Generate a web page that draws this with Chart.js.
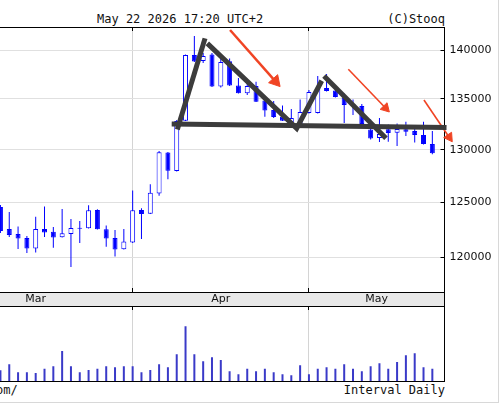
<!DOCTYPE html>
<html><head><meta charset="utf-8">
<script src="https://cdn.jsdelivr.net/npm/chart.js@4.4.1/dist/chart.umd.min.js"></script>
<style>
html,body{margin:0;padding:0;background:#fff;width:500px;height:415px;overflow:hidden;position:relative;}
.t{position:absolute;font-family:"DejaVu Sans Mono",monospace;font-size:12px;line-height:14px;color:#111;white-space:pre;}
#c1{position:absolute;left:0;top:0;}
#c2{position:absolute;left:0;top:293px;}
#frame{position:absolute;left:-10px;top:-10px;width:508px;height:412px;border-right:1px solid #d8d8d8;border-bottom:1px solid #d8d8d8;}
</style></head><body>
<div id="frame"></div>
<div class="t" style="left:97px;top:11.5px">May 22 2026 17:20 UTC+2</div>
<div class="t" style="left:0;width:445px;text-align:right;top:11.5px">(C)Stooq</div>
<div class="t" style="left:-4px;top:383px">om/</div>
<div class="t" style="left:0;width:445px;text-align:right;top:383px">Interval Daily</div>
<canvas id="c1" width="500" height="293"></canvas>
<canvas id="c2" width="500" height="90"></canvas>
<script>
// ---------- data ----------
const dates = ['2026-03-11','2026-03-12','2026-03-13','2026-03-16','2026-03-17','2026-03-18','2026-03-19','2026-03-20','2026-03-23','2026-03-24','2026-03-25','2026-03-26','2026-03-27','2026-03-30','2026-03-31',
'2026-04-01','2026-04-02','2026-04-07','2026-04-08','2026-04-09','2026-04-10','2026-04-13','2026-04-14','2026-04-15','2026-04-16','2026-04-17','2026-04-20','2026-04-21','2026-04-22','2026-04-23','2026-04-24','2026-04-27','2026-04-28','2026-04-29','2026-04-30',
'2026-05-04','2026-05-05','2026-05-06','2026-05-07','2026-05-08','2026-05-11','2026-05-12','2026-05-13','2026-05-14','2026-05-15','2026-05-18','2026-05-19','2026-05-20','2026-05-21','2026-05-22'];
const open  = [124580,122560,122100,121740,120790,122560,122310,121800,122100,122580,122620,124300,122530,121740,120720,
121320,124300,123960,125820,129730,127960,132830,139480,138860,139530,136250,138830,136350,135570,136300,134840,133890,133230,132700,132510,
133590,133590,136100,135850,135140,134490,134290,131970,131130,131990,131650,131990,131820,131430,130550];
const high  = [124760,124120,122780,121920,123680,124610,122740,124390,123470,123290,124730,124360,122880,122470,122560,
126100,124460,126700,129870,129780,132900,139530,141470,139690,139690,139140,139120,137120,136710,136740,135290,134790,134340,133990,134940,
135900,137320,137520,136100,135550,134940,134490,132950,133100,132460,132560,132730,132210,132730,131820];
const low   = [122190,121830,120750,120390,120430,121830,120860,121780,119140,121290,122600,122510,120950,120080,120700,
121290,121640,123930,125630,127170,127910,132800,138760,138650,136200,136150,136300,135550,135390,134690,133230,133100,132800,132210,132410,
133540,133540,135750,135140,132600,133400,132410,130990,130750,130770,130360,131330,130700,130500,129550];
const close = [122370,122010,121690,120790,122560,122240,121770,122170,122650,122620,124270,122530,121690,120700,121420,
124270,123930,125910,129750,127980,132800,139480,138810,139380,136250,138760,136350,135570,136300,134720,133840,133200,132830,133100,133690,
135700,136050,135800,135190,134390,134290,132510,131090,131520,131620,132010,131750,131430,130550,129650];
const volume = [32,50,26,26,24,37,44,90,44,26,33,37,44,41,44,
44,26,33,50,41,80,164,80,59,71,63,29,20,37,29,37,26,20,17,47,
20,37,41,37,50,37,29,44,53,37,57,77,83,41,37];
const priceTicks = [120000,125000,130000,135000,140000];
const monthLabels = ['Mar','Apr','May'];
const monthStartIdx = [-7,15,35];   // session index of each month's first session
// hand-drawn annotations, in data coordinates (session index, price)
const trendUp    = [{x:20.07,y:131970},{x:23.21,y:141220}];
const trendDownV = [{x:23.47,y:140700},{x:33.61,y:132080},{x:36.45,y:136840}];
const trendDown2 = [{x:36.71,y:137320},{x:43.74,y:131100}];
const neckline   = [{x:19.43,y:132510},{x:50.61,y:132160}];
const arrow1 = [{x:26.05,y:142100},{x:31.20,y:136780}];
const arrow2 = [{x:39.47,y:138010},{x:43.69,y:134090}];
const arrow3 = [{x:48.05,y:134890},{x:50.91,y:131210}];

// ---------- setup ----------
const X_MIN = -0.05, X_MAX = 50.38;
const Y_MIN = 116940, Y_MAX = 142420;
const VOL_MAX = 225;
const BLUE = '#0000ff', DARK = '#3c3c3c', RED = '#f04424';
const al = p => Math.round(p - 0.5) + 0.5;

const wickData = dates.map((d,i)=>({x:i, y:[low[i], high[i]]}));
const bodyData = dates.map((d,i)=>({x:i, y:[open[i], close[i]]}));
const bodyFill = dates.map((d,i)=> close[i] >= open[i] ? '#ffffff' : BLUE);

const drawLine = (data) => ({type:'line', data, borderColor:DARK, borderWidth:5, pointRadius:0, pointHoverRadius:0,
  clip:false, tension:0, borderJoinStyle:'miter', borderCapStyle:'butt', fill:false, order:0});
const drawArrow = (data, w, r, rot) => ({type:'line', data, borderColor:RED, borderWidth:w, pointRadius:[0,r], pointHoverRadius:14,
  pointStyle:'triangle', pointRotation:[0,rot], pointBackgroundColor:RED, pointBorderColor:RED, pointBorderWidth:1,
  clip:false, tension:0, fill:false, order:0});

const priceFrame = {
  id:'priceFrame',
  beforeDatasetsDraw(chart){
    const {ctx, chartArea:a, scales:{x, y}} = chart;
    ctx.save(); ctx.strokeStyle = '#000'; ctx.lineWidth = 1; ctx.beginPath();
    const t = al(a.top);
    ctx.moveTo(a.left, t); ctx.lineTo(a.right, t);
    priceTicks.forEach(v => { const py = al(y.getPixelForValue(v)); ctx.moveTo(a.right - 4, py); ctx.lineTo(a.right, py); });
    x.ticks.forEach(tk => { const px = al(x.getPixelForValue(tk.value));
      ctx.moveTo(px, a.top); ctx.lineTo(px, a.top + 4); ctx.moveTo(px, a.bottom - 4); ctx.lineTo(px, a.bottom); });
    ctx.stroke(); ctx.restore();
  }
};

new Chart(document.getElementById('c1'), {
  type:'bar',
  data:{datasets:[
    {label:'wick', data:wickData, backgroundColor:BLUE, borderWidth:0, barThickness:1, grouped:false, inflateAmount:0, order:2},
    {label:'body', data:bodyData, backgroundColor:bodyFill, borderColor:BLUE, borderWidth:1, borderSkipped:false,
      barThickness:5, grouped:false, minBarLength:1, inflateAmount:0, order:1},
    drawLine(neckline), drawLine(trendUp), drawLine(trendDownV), drawLine(trendDown2),
    drawArrow(arrow1, 2.5, 7, 138.5), drawArrow(arrow2, 1.6, 5.5, 136.1), drawArrow(arrow3, 1.6, 5.5, 145.9)
  ]},
  options:{
    responsive:false, animation:false, devicePixelRatio:1, events:[],
    layout:{autoPadding:false, padding:{top:27, bottom:1, left:0, right:0}},
    plugins:{legend:{display:false}, tooltip:{enabled:false}},
    scales:{
      x:{type:'linear', min:X_MIN, max:X_MAX, position:'bottom', offset:false,
        afterBuildTicks: s => { s.ticks = monthStartIdx.filter(v => v >= X_MIN && v <= X_MAX).map(v => ({value:v})); },
        afterFit: s => { s.height = 0; s.paddingLeft = 0; s.paddingRight = 0; },
        ticks:{display:false}, grid:{color:'#d4d4d4', drawTicks:false, offset:false}, border:{color:'#000', width:1}},
      y:{type:'logarithmic', position:'right', min:Y_MIN, max:Y_MAX, beginAtZero:false,
        afterBuildTicks: s => { s.ticks = priceTicks.map(v => ({value:v})); },
        afterFit: s => { s.width = 55.5; s.paddingTop = 0; s.paddingBottom = 0; },
        ticks:{padding:5, color:'#111', font:{family:'DejaVu Sans', size:11}, callback: v => String(v)},
        grid:{color:'#e0e0e0', drawTicks:false}, border:{color:'#000', width:1}}
    }
  },
  plugins:[priceFrame]
});

// ---------- volume panel with month band ----------
const monthCenters = monthStartIdx.map((s,k) => (s + (k + 1 < monthStartIdx.length ? monthStartIdx[k+1] : X_MAX)) / 2);
const bandLabel = new Map();
monthStartIdx.forEach(v => bandLabel.set(v, ''));
monthCenters.forEach((v,k) => bandLabel.set(v, monthLabels[k]));

const volFrame = {
  id:'volFrame',
  beforeDraw(chart){
    const {ctx, chartArea:a, scales:{x}} = chart;
    ctx.save(); ctx.fillStyle = '#e8e8e8'; ctx.fillRect(0, x.top, a.right, x.bottom - x.top); ctx.restore();
  },
  beforeDatasetsDraw(chart){
    const {ctx, chartArea:a, scales:{x}} = chart;
    ctx.save(); ctx.strokeStyle = '#000'; ctx.lineWidth = 1; ctx.beginPath();
    const b = al(a.bottom + 0.5), r = al(a.right);
    ctx.moveTo(a.left, b); ctx.lineTo(r + 0.5, b);
    ctx.moveTo(r, x.top); ctx.lineTo(r, x.bottom);
    monthStartIdx.filter(v => v >= X_MIN && v <= X_MAX).forEach(v => { const px = al(x.getPixelForValue(v));
      ctx.moveTo(px, a.top); ctx.lineTo(px, a.top + 4); });
    ctx.stroke(); ctx.restore();
  }
};

new Chart(document.getElementById('c2'), {
  type:'bar',
  data:{datasets:[
    {label:'volume', data:dates.map((d,i)=>({x:i, y:volume[i]})), backgroundColor:'rgb(58,58,200)', borderWidth:0,
      barThickness:2, grouped:false, inflateAmount:0}
  ]},
  options:{
    responsive:false, animation:false, devicePixelRatio:1, events:[],
    layout:{autoPadding:false, padding:{top:0, bottom:2, left:0, right:0}},
    plugins:{legend:{display:false}, tooltip:{enabled:false}},
    scales:{
      x:{type:'linear', min:X_MIN, max:X_MAX, position:'top', offset:false,
        afterBuildTicks: s => { s.ticks = [...bandLabel.keys()].filter(v => v >= X_MIN && v <= X_MAX).sort((a,b)=>a-b).map(v => ({value:v})); },
        afterFit: s => { s.height = 13; s.paddingLeft = 0; s.paddingRight = 0; },
        ticks:{padding:0, autoSkip:false, maxRotation:0, color:'#111', font:{family:'DejaVu Sans', size:11},
          callback: v => bandLabel.get(v) ?? ''},
        grid:{drawTicks:false, offset:false, color: c => (c.tick && bandLabel.get(c.tick.value) === '') ? '#d4d4d4' : 'rgba(0,0,0,0)'},
        border:{color:'#000', width:1}},
      y:{type:'linear', position:'right', min:0, max:VOL_MAX,
        afterFit: s => { s.width = 55.5; s.paddingTop = 0; s.paddingBottom = 0; },
        ticks:{display:false}, grid:{display:false}, border:{color:'#000', width:1}}
    }
  },
  plugins:[volFrame]
});
</script>
</body></html>
